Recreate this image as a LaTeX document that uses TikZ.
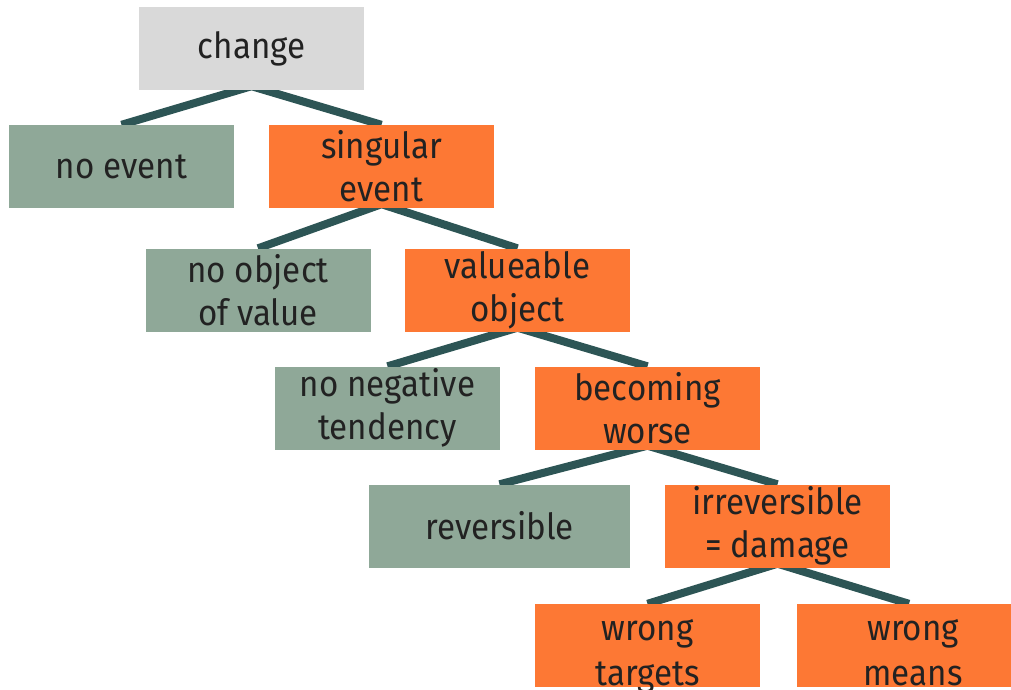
\documentclass[tikz,border=0pt]{standalone}
\usepackage{fontspec}
\setmainfont{Fira Sans}[FakeStretch=0.92]
\usetikzlibrary{backgrounds}
\definecolor{boxgray}{RGB}{217,217,217}
\definecolor{boxgreen}{RGB}{143,168,152}
\definecolor{boxorange}{RGB}{253,120,52}
\definecolor{linkcol}{RGB}{45,85,85}
\definecolor{txt}{RGB}{34,34,34}
\newcommand{\lowpair}[2]{\raisebox{-15pt}[0pt][0pt]{\begin{tabular}{@{}c@{}}#1\\#2\end{tabular}}}
\begin{document}
\begin{tikzpicture}[x=1pt,y=-1pt,
  box/.style={minimum width=225pt,minimum height=83pt,inner sep=0pt,align=center,
    text=txt,font=\fontsize{36}{43}\selectfont},
  grey/.style={box,fill=boxgray},
  green/.style={box,fill=boxgreen},
  orange/.style={box,fill=boxorange},
  lowtext/.style={font=\fontsize{36}{45}\selectfont},
  link/.style={draw=linkcol,line width=8pt,line join=round}]
\useasboundingbox (0,0) rectangle (1011,689);
\node[grey]   (change)  at (251.5,48.5) {change};
\node[green]  (noev)    at (121.5,166.5) {no event};
\node[orange] (sing)    at (381.5,166.5) {singular\\event};
\node[green]  (noobj)   at (258,290) {no object\\of value};
\node[orange] (valobj)  at (517.5,290) {valueable\\object};
\node[green]  (noneg)   at (387.5,408) {no negative\\tendency};
\node[orange] (worse)   at (647.5,408) {becoming\\worse};
\node[green,minimum width=261pt] (rev) at (499.5,526) {reversible};
\node[orange] (irrev)   at (777.5,526) {irreversible\\= damage};
\node[orange,lowtext] (targets) at (647.5,645.5) {\lowpair{wrong}{targets}};
\node[orange,lowtext,minimum width=232pt] (means) at (913,645.5) {\lowpair{wrong}{means}};
\begin{scope}[on background layer]
\draw[link] (noev.north) -- ([yshift=4pt]change.south) -- (sing.north);
\draw[link] (noobj.north) -- ([yshift=4pt]sing.south) -- (valobj.north);
\draw[link] (noneg.north) -- ([yshift=4pt]valobj.south) -- (worse.north);
\draw[link] (rev.north) -- ([yshift=4pt]worse.south) -- (irrev.north);
\draw[link] (targets.north) -- ([yshift=4pt]irrev.south) -- ([xshift=-4pt]means.north);
\end{scope}
\end{tikzpicture}
\end{document}
